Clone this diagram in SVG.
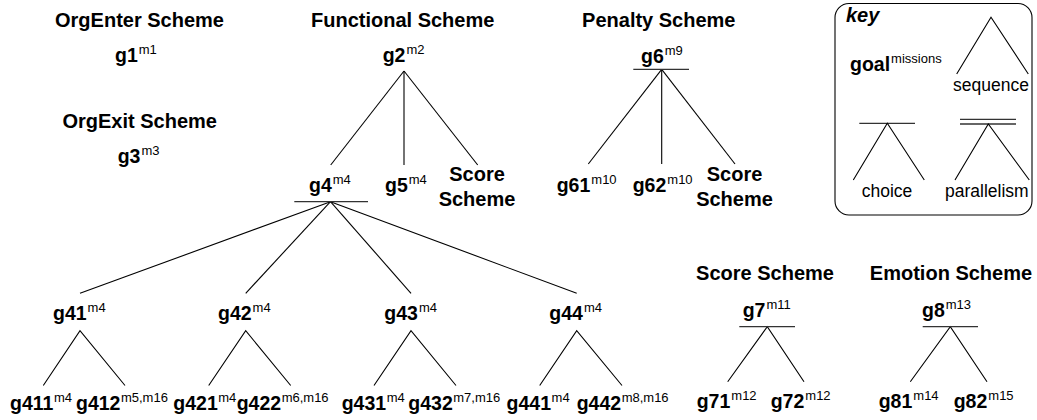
<svg xmlns="http://www.w3.org/2000/svg" width="1037" height="420" viewBox="0 0 1037 420">
<style>
text{font-family:"Liberation Sans",Arial,Helvetica,sans-serif;fill:#000}
.t{font-size:20px;font-weight:bold;text-anchor:middle}
.g{font-size:19.5px;font-weight:bold}
.s{font-size:13px;font-weight:normal}
.k{font-size:17.5px;text-anchor:middle}
line,path{stroke:#000;stroke-width:1.1;fill:none}
.bar{stroke:#333;stroke-width:1.3}
</style>
<rect width="1037" height="420" fill="#fff"/>

<!-- titles -->
<g id="titles">
<text class="t" x="139.5" y="26.7">OrgEnter Scheme</text>
<text class="t" x="139.7" y="128.3">OrgExit Scheme</text>
<text class="t" x="402.7" y="26.5">Functional Scheme</text>
<text class="t" x="658.8" y="26.7">Penalty Scheme</text>
<text class="t" x="765" y="280">Score Scheme</text>
<text class="t" x="951" y="280">Emotion Scheme</text>
</g>

<!-- connectors -->
<g id="connectors">
<line x1="404" y1="71" x2="330.7" y2="165"/>
<line x1="404" y1="71" x2="404" y2="165"/>
<line x1="404" y1="71" x2="477.7" y2="165"/>
<line x1="661.7" y1="69.3" x2="588.3" y2="164"/>
<line x1="661.7" y1="69.3" x2="661.7" y2="164"/>
<line x1="661.7" y1="69.3" x2="735" y2="164"/>
<line x1="330.5" y1="201.7" x2="80" y2="293.3"/>
<line x1="330.5" y1="201.7" x2="245.7" y2="293.3"/>
<line x1="330.5" y1="201.7" x2="411" y2="293.3"/>
<line x1="330.5" y1="201.7" x2="576.7" y2="293.3"/>
<path d="M43.3 385.5L80 330.7L125 385.5"/>
<path d="M208.7 385.5L245.7 330.7L290.7 385.5"/>
<path d="M374 385.5L411 330.7L456 385.5"/>
<path d="M539.7 385.5L576.7 330.7L622 385.5"/>
<path d="M727.7 381.7L767.3 326.7L804 381.7"/>
<path d="M910.3 381.7L950.3 326.7L987 381.7"/>
</g>

<!-- nodes -->
<g id="g1"><text class="g" x="115" y="61.7">g1<tspan class="s" dx="1" dy="-8">m1</tspan></text></g>
<g id="g3"><text class="g" x="117.7" y="163.3">g3<tspan class="s" dx="1" dy="-8">m3</tspan></text></g>
<g id="g2"><text class="g" x="382.7" y="61.7">g2<tspan class="s" dx="1" dy="-8">m2</tspan></text></g>
<g id="g4"><text class="g" x="309" y="191.7">g4<tspan class="s" dx="1" dy="-8">m4</tspan></text>
<line class="bar" x1="294.3" y1="201.7" x2="368" y2="201.7"/></g>
<g id="g5"><text class="g" x="385" y="191.7">g5<tspan class="s" dx="1" dy="-8">m4</tspan></text></g>
<g id="score-ref-1"><text class="t" x="477" y="181">Score</text><text class="t" x="477" y="205.5">Scheme</text></g>
<g id="g6"><text class="g" x="641" y="62.5">g6<tspan class="s" dx="1" dy="-8">m9</tspan></text>
<line class="bar" x1="633.3" y1="69.3" x2="689" y2="69.3"/></g>
<g id="g61"><text class="g" x="556.7" y="191.7">g61<tspan class="s" dx="1" dy="-8">m10</tspan></text></g>
<g id="g62"><text class="g" x="632.7" y="191.7">g62<tspan class="s" dx="1" dy="-8">m10</tspan></text></g>
<g id="score-ref-2"><text class="t" x="734.5" y="181">Score</text><text class="t" x="734.5" y="205.5">Scheme</text></g>

<g id="g41"><text class="g" x="53" y="319.5">g41<tspan class="s" dx="1" dy="-8">m4</tspan></text></g>
<g id="g42"><text class="g" x="218" y="319.5">g42<tspan class="s" dx="1" dy="-8">m4</tspan></text></g>
<g id="g43"><text class="g" x="384.3" y="319.5">g43<tspan class="s" dx="1" dy="-8">m4</tspan></text></g>
<g id="g44"><text class="g" x="549.3" y="319.5">g44<tspan class="s" dx="1" dy="-8">m4</tspan></text></g>

<g id="g411"><text class="g" x="10" y="409.5">g411<tspan class="s" dx="0.5" dy="-8">m4</tspan></text></g>
<g id="g412"><text class="g" x="76" y="409.5">g412<tspan class="s" dx="0.5" dy="-8">m5,m16</tspan></text></g>
<g id="g421"><text class="g" x="173.3" y="409.5">g421<tspan class="s" dx="0.5" dy="-8">m4</tspan></text></g>
<g id="g422"><text class="g" x="236.7" y="409.5">g422<tspan class="s" dx="0.5" dy="-8">m6,m16</tspan></text></g>
<g id="g431"><text class="g" x="341.7" y="409.5">g431<tspan class="s" dx="0.5" dy="-8">m4</tspan></text></g>
<g id="g432"><text class="g" x="408.3" y="409.5">g432<tspan class="s" dx="0.5" dy="-8">m7,m16</tspan></text></g>
<g id="g441"><text class="g" x="506.6" y="409.5">g441<tspan class="s" dx="0.5" dy="-8">m4</tspan></text></g>
<g id="g442"><text class="g" x="576.7" y="409.5">g442<tspan class="s" dx="0.5" dy="-8">m8,m16</tspan></text></g>

<g id="g7"><text class="g" x="742.7" y="316.7">g7<tspan class="s" dx="1" dy="-8">m11</tspan></text>
<line class="bar" x1="739.3" y1="326.7" x2="795" y2="326.7"/></g>
<g id="g71"><text class="g" x="696.7" y="407.5">g71<tspan class="s" dx="1" dy="-8">m12</tspan></text></g>
<g id="g72"><text class="g" x="770.7" y="407.5">g72<tspan class="s" dx="1" dy="-8">m12</tspan></text></g>
<g id="g8"><text class="g" x="922" y="316.7">g8<tspan class="s" dx="1" dy="-8">m13</tspan></text>
<line class="bar" x1="922.7" y1="326.7" x2="978" y2="326.7"/></g>
<g id="g81"><text class="g" x="878.7" y="407.5">g81<tspan class="s" dx="1" dy="-8">m14</tspan></text></g>
<g id="g82"><text class="g" x="953.7" y="407.5">g82<tspan class="s" dx="1" dy="-8">m15</tspan></text></g>

<!-- key -->
<g id="key">
<rect x="835" y="3.5" width="197" height="211.5" rx="14" ry="14" fill="none" stroke="#000" stroke-width="1.1"/>
<text x="846" y="22" style="font-size:20px;font-weight:bold;font-style:italic">key</text>
<text class="g" x="850" y="71">goal<tspan class="s" dx="1" dy="-8">missions</tspan></text>
<path d="M956.7 74L991 17.3L1028.3 74"/>
<text class="k" x="991" y="91">sequence</text>
<line class="bar" x1="859.3" y1="123.3" x2="915" y2="123.3"/>
<path d="M853.3 180L887.3 123.3L924.3 180"/>
<text class="k" x="887" y="197">choice</text>
<line class="bar" x1="960" y1="119.3" x2="1016" y2="119.3"/>
<line class="bar" x1="960" y1="124" x2="1016" y2="124"/>
<path d="M955 180L988.3 124L1029.3 180"/>
<text class="k" x="986.8" y="197">parallelism</text>
</g>
</svg>
